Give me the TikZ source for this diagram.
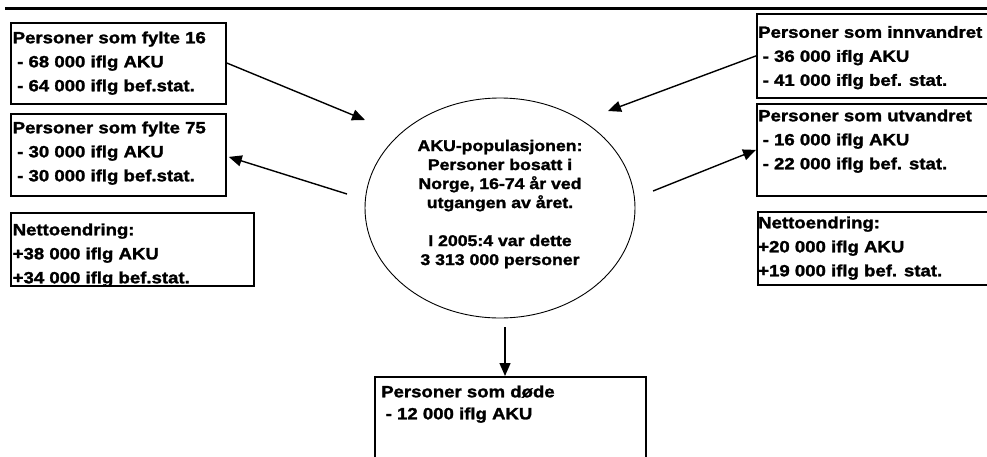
\documentclass[tikz,border=0pt]{standalone}
\usepackage{fontspec}
\setmainfont{Liberation Sans}[FakeStretch=1.14, BoldFeatures={FakeBold=1.6}]
\usetikzlibrary{shapes.geometric,arrows.meta,calc}
\tikzset{
  box/.style={draw, line width=1.8pt, anchor=north west, inner sep=0pt},
  txt/.style={anchor=north west, inner sep=0pt, align=left,
    font=\bfseries\fontsize{16.3}{24}\selectfont},
  pop/.style={draw, ellipse, line width=0.9pt, inner sep=0pt,
    minimum width=270pt, minimum height=220pt},
  poptxt/.style={anchor=north, inner sep=0pt, align=center,
    font=\bfseries\fontsize{15.5}{19}\selectfont},
  arr/.style={line width=1.4pt, -{Triangle[length=13pt,width=11pt]}}
}
\begin{document}
\begin{tikzpicture}[x=1pt,y=-1pt]
\useasboundingbox (0,0) rectangle (987,456);
\clip (0,0) rectangle (987,456);
\fill[white] (0,0) rectangle (987,456);
% top rule
\draw[line width=2.5pt] (5,8.5) -- (987,8.5);
% left boxes
\node[box, minimum width=215pt, minimum height=81pt] (b1) at (10,22) {};
\node[txt] (t1) at (12.5,31.3) {\rule{0pt}{11.7pt}Personer som fylte 16\\\hspace*{4.5pt}- 68 000 iflg AKU\\\hspace*{4.5pt}- 64 000 iflg bef.stat.};
\node[box, minimum width=215pt, minimum height=82pt] (b2) at (10,113) {};
\node[txt] (t2) at (12.5,121.3) {\rule{0pt}{11.7pt}Personer som fylte 75\\\hspace*{4.5pt}- 30 000 iflg AKU\\\hspace*{4.5pt}- 30 000 iflg bef.stat.};
\node[box, minimum width=243pt, minimum height=73pt] (b3) at (10,212) {};
\node[txt] (t3) at (12.5,223.3) {\rule{0pt}{11.7pt}Nettoendring:\\+38 000 iflg AKU\\+34 000 iflg bef.stat.};
% right boxes
\node[box, minimum width=245pt, minimum height=84pt] (b4) at (756,13) {};
\node[txt] (t4) at (758,25.8) {\rule{0pt}{11.7pt}Personer som innvandret\\\hspace*{4.5pt}- 36 000 iflg AKU\\\hspace*{4.5pt}- 41 000 iflg bef. stat.};
\node[box, minimum width=245pt, minimum height=92pt] (b5) at (756,103) {};
\node[txt] (t5) at (758,109.3) {\rule{0pt}{11.7pt}Personer som utvandret\\\hspace*{4.5pt}- 16 000 iflg AKU\\\hspace*{4.5pt}- 22 000 iflg bef. stat.};
\node[box, minimum width=245pt, minimum height=73pt] (b6) at (757,211) {};
\node[txt] (t6) at (758,216.3) {\rule{0pt}{11.7pt}Nettoendring:\\+20 000 iflg AKU\\+19 000 iflg bef. stat.};
% bottom box
\node[box, minimum width=271pt, minimum height=100pt] (b7) at (374,376) {};
\node[txt, font=\bfseries\fontsize{16.3}{22}\selectfont] (t7) at (381,385.3) {\rule{0pt}{11.7pt}Personer som døde\\\hspace*{4.5pt}- 12 000 iflg AKU};
% population ellipse
\node[pop] (pop) at (500,208) {};
\node[poptxt] (popt) at (500,139.6) {\rule{0pt}{11.1pt}AKU-populasjonen:\\Personer bosatt i\\Norge, 16-74 år ved\\utgangen av året.\\[19pt]I 2005:4 var dette\\3 313 000 personer};
% connectors
\coordinate (p1) at ($(pop.center)+(-135,-88)$);
\coordinate (p2) at ($(pop.center)+(-153,-14)$);
\coordinate (p3) at ($(pop.center)+(108,-97)$);
\coordinate (p4) at ($(pop.center)+(153,-17)$);
\coordinate (p5) at ($(pop.south)+(5,9)$);
\draw[arr] ($(b1.north east)+(0,41)$) -- (p1);
\draw[arr] (p2) -- ($(b2.east)+(2,2)$);
\draw[arr] (b4.west) -- (p3);
\draw[arr] (p4) -- (b5.west);
\draw[arr] (p5) -- (p5 |- b7.north);
\end{tikzpicture}
\end{document}
